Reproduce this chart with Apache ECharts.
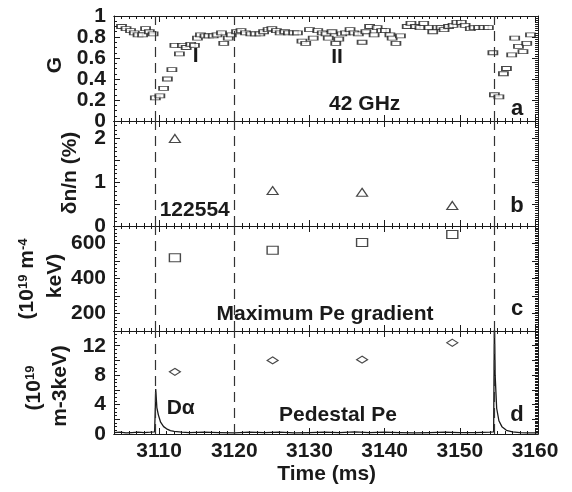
<!DOCTYPE html>
<html>
<head>
<meta charset="utf-8">
<script src="https://cdn.jsdelivr.net/npm/echarts@6/dist/echarts.min.js"></script>
<style>
html, body { margin: 0; padding: 0; background: #fff; }
#chartBox { width: 572px; height: 492px; }
</style>
</head>
<body>
<div id="chartBox"></div>
<script>
// panel a : G (42 GHz)
var gTime = [3105.0, 3105.6, 3106.2, 3106.7, 3107.2, 3107.8, 3108.2, 3108.7, 3109.2,
    3109.5, 3110.1, 3110.6, 3111.1, 3111.7, 3112.1, 3112.7, 3113.1, 3113.6, 3114.2, 3114.7,
    3115.1, 3115.5, 3116.1, 3116.6, 3117.2, 3117.7, 3118.3, 3118.6, 3119.2, 3119.6,
    3120.3, 3120.9, 3121.5, 3122.2, 3122.8, 3123.4, 3123.9, 3124.5, 3125.0, 3125.6,
    3126.1, 3126.7, 3127.2, 3127.9, 3128.4, 3129.0, 3129.5, 3130.0, 3130.5, 3131.1,
    3131.7, 3132.2, 3132.5, 3133.0, 3133.5, 3133.9, 3134.3, 3134.8, 3135.4, 3135.9,
    3136.5, 3137.0, 3137.5, 3138.0, 3138.6, 3139.0, 3139.6, 3140.1, 3140.7, 3141.0,
    3141.5, 3142.1, 3143.0, 3143.5, 3144.1, 3144.7, 3145.2, 3145.9, 3146.4, 3147.0,
    3147.5, 3147.9, 3148.5, 3149.1, 3149.6, 3150.2, 3150.7, 3151.4, 3151.9, 3152.5,
    3153.2, 3153.8, 3154.4, 3154.6, 3155.2, 3155.8, 3156.2, 3156.9, 3157.3, 3157.8,
    3158.4, 3158.9, 3159.4];
var gVal = [0.90, 0.88, 0.86, 0.84, 0.82, 0.82, 0.88, 0.85, 0.83,
    0.22, 0.24, 0.31, 0.40, 0.49, 0.72, 0.64, 0.72, 0.70, 0.73, 0.72,
    0.79, 0.82, 0.81, 0.81, 0.81, 0.82, 0.84, 0.74, 0.79, 0.82,
    0.85, 0.86, 0.84, 0.83, 0.83, 0.83, 0.85, 0.87, 0.88, 0.86,
    0.84, 0.85, 0.84, 0.84, 0.84, 0.76, 0.74, 0.87, 0.79, 0.86,
    0.84, 0.83, 0.79, 0.85, 0.74, 0.78, 0.83, 0.84, 0.87, 0.84,
    0.83, 0.75, 0.85, 0.90, 0.82, 0.89, 0.86, 0.86, 0.82, 0.79,
    0.74, 0.81, 0.90, 0.93, 0.90, 0.89, 0.93, 0.89, 0.85, 0.89,
    0.89, 0.87, 0.90, 0.91, 0.94, 0.94, 0.91, 0.88, 0.89, 0.89,
    0.89, 0.89, 0.65, 0.25, 0.23, 0.45, 0.50, 0.63, 0.79, 0.71,
    0.66, 0.74, 0.82];

// panels b, c, d : profile times
var profTime = [3112.1, 3125.1, 3137.0, 3149.0];
var dnVal = [2.0, 0.81, 0.77, 0.47];          // δn/n (%)
var gradVal = [518, 562, 606, 651];           // maximum Pe gradient
var pedVal = [8.45, 10.0, 10.1, 12.4];        // pedestal Pe

// D-alpha trace
var daTime = [3104.0, 3104.8, 3105.6, 3106.4, 3107.2, 3108.0, 3108.8, 3109.4, 3109.48, 3109.55,
    3109.7, 3109.9, 3110.2, 3110.6, 3111.0, 3111.5, 3112.0, 3113.0, 3114.0, 3116.0,
    3118.0, 3120.0, 3122.0, 3124.0, 3126.0, 3128.0, 3130.0, 3132.0, 3134.0, 3136.0,
    3138.0, 3140.0, 3142.0, 3144.0, 3146.0, 3148.0, 3150.0, 3152.0, 3154.0, 3154.5,
    3154.6, 3154.7, 3154.9, 3155.2, 3155.6, 3156.2, 3157.0, 3158.0, 3159.0, 3160.4];
var daVal = [0.20, 0.25, 0.15, 0.20, 0.25, 0.20, 0.25, 0.30, 3.0, 6.1,
    3.6, 2.6, 1.6, 1.0, 0.7, 0.45, 0.35, 0.25, 0.20, 0.25,
    0.20, 0.15, 0.25, 0.20, 0.25, 0.15, 0.20, 0.25, 0.20, 0.30,
    0.20, 0.25, 0.20, 0.15, 0.20, 0.25, 0.20, 0.20, 0.25, 0.30,
    16, 8.0, 3.5, 1.8, 1.0, 0.5, 0.3, 0.2, 0.15, 0.15];

// vertical dashed markers
var dashTimes = [3109.45, 3120, 3154.6];

// x tick labels
var xLabels = [3110, 3120, 3130, 3140, 3150, 3160];
var xMinor = [];
for (var t = 3105; t <= 3160; t++) { xMinor.push(t); }

var FONT = "'Liberation Sans', Arial, sans-serif";
var INK = '#1a1a1a';

var grids = [
    { left: 114, right: 34, top: 16, height: 105 },
    { left: 114, right: 34, top: 121, height: 105 },
    { left: 114, right: 34, top: 226, height: 105 },
    { left: 114, right: 34, top: 331, height: 103 }
];

var yCfg = [
    { min: 0, max: 1, interval: 0.2, minor: 4, show: function (v) { return true; } },
    { min: 0, max: 2.4, interval: 0.5, minor: 5, show: function (v) { return Math.abs(v - Math.round(v)) < 1e-6; } },
    { min: 100, max: 700, interval: 100, minor: 5, show: function (v) { return v == 200 || v == 400 || v == 600; } },
    { min: 0, max: 14, interval: 2, minor: 4, show: function (v) { return v % 4 == 0 && v < 14; } }
];

var xAxes = [];
var yAxes = [];

function addXAxis(i, pos, vals, len, withLabel) {
    xAxes.push({
        type: 'value',
        gridIndex: i,
        position: pos,
        min: 3104,
        max: 3160.4,
        axisLine: { show: true, onZero: false, lineStyle: { color: INK, width: 1 } },
        axisTick: { show: true, inside: true, length: len, customValues: vals, lineStyle: { color: INK } },
        axisLabel: {
            show: withLabel,
            customValues: xLabels,
            margin: 7,
            color: INK,
            fontFamily: FONT,
            fontWeight: 'bold',
            fontSize: 21,
            formatter: function (v) { return String(v); }
        },
        splitLine: { show: false }
    });
}

function addYAxis(i, pos) {
    var c = yCfg[i];
    yAxes.push({
        type: 'value',
        gridIndex: i,
        position: pos,
        min: c.min,
        max: c.max,
        interval: c.interval,
        axisLine: { show: true, lineStyle: { color: INK, width: 1 } },
        axisTick: { show: true, inside: true, length: 6, lineStyle: { color: INK } },
        minorTick: { show: true, splitNumber: pos == 'left' ? c.minor : 10, length: 3, lineStyle: { color: INK } },
        axisLabel: {
            show: pos == 'left',
            margin: 8,
            color: INK,
            fontFamily: FONT,
            fontWeight: 'bold',
            fontSize: 21,
            formatter: function (v) { return c.show(v) ? String(+v.toFixed(2)) : ''; }
        },
        splitLine: { show: false },
        minorSplitLine: { show: false }
    });
}

for (var i = 0; i < 4; i++) {
    addXAxis(i, 'bottom', xLabels, 6, i == 3);   // 4*i
    addXAxis(i, 'bottom', xMinor, 3, false);     // 4*i+1
    addXAxis(i, 'top', xLabels, 6, false);       // 4*i+2
    addXAxis(i, 'top', xMinor, 3, false);        // 4*i+3
    addYAxis(i, 'left');                         // 2*i
    addYAxis(i, 'right');                        // 2*i+1
}

function pairs(xs, ys) {
    var out = [];
    for (var k = 0; k < xs.length; k++) { out.push([xs[k], ys[k]]); }
    return out;
}

function dashLines() {
    var d = [];
    for (var k = 0; k < dashTimes.length; k++) { d.push({ xAxis: dashTimes[k] }); }
    return {
        silent: true,
        symbol: 'none',
        label: { show: false },
        lineStyle: { color: '#333', width: 1.2, type: [10, 6] },
        data: d
    };
}

function markerSeries(i, data, symbol, size) {
    return {
        type: 'scatter',
        xAxisIndex: 4 * i,
        yAxisIndex: 2 * i,
        symbol: symbol,
        symbolSize: size,
        itemStyle: { color: '#fff', borderColor: INK, borderWidth: 1.2 },
        data: data,
        markLine: dashLines(),
        z: 3
    };
}

var seriesList = [
    markerSeries(0, pairs(gTime, gVal), 'rect', [9, 4]),
    markerSeries(1, pairs(profTime, dnVal), 'triangle', [11, 8]),
    markerSeries(2, pairs(profTime, gradVal), 'rect', [11, 8]),
    markerSeries(3, pairs(profTime, pedVal), 'diamond', [11, 7]),
    {
        type: 'line',
        xAxisIndex: 12,
        yAxisIndex: 6,
        showSymbol: false,
        clip: true,
        lineStyle: { color: INK, width: 1.3 },
        data: pairs(daTime, daVal),
        z: 2
    }
];

// text placed by its baseline (y given as baseline, drawn bottom-aligned)
function txt(x, y, s, opt) {
    opt = opt || {};
    var size = opt.size || 21;
    var va = opt.va || 'bottom';
    var yy = va == 'bottom' ? y + Math.round(size * 0.21) : y;
    return {
        type: 'text',
        x: x,
        y: yy,
        rotation: opt.rot || 0,
        silent: true,
        style: {
            text: s,
            fill: INK,
            fontFamily: FONT,
            fontWeight: 'bold',
            fontSize: size,
            align: opt.align || 'center',
            verticalAlign: va,
            rich: opt.rich
        }
    };
}

var supRich = {
    sup: { fontFamily: FONT, fontWeight: 'bold', fontSize: 13, verticalAlign: 'top', fill: INK }
};
var R = Math.PI / 2;

var graphics = [
    // y axis titles
    txt(55, 65, 'G', { rot: R, va: 'middle' }),
    txt(70, 173, 'δn/n (%)', { rot: R, va: 'middle' }),
    txt(27, 279, '(10{sup|19} m{sup|-4}', { rot: R, va: 'middle', rich: supRich }),
    txt(55, 276, 'keV)', { rot: R, va: 'middle' }),
    txt(34, 388, '(10{sup|19}', { rot: R, va: 'middle', rich: supRich }),
    txt(60, 386, 'm-3keV)', { rot: R, va: 'middle' }),
    // annotations
    txt(195.7, 63, 'I'),
    txt(337, 64, 'II'),
    txt(364.7, 111, '42 GHz'),
    txt(517, 115, 'a', { size: 22 }),
    txt(194.7, 217, '122554'),
    txt(517, 212, 'b', { size: 22 }),
    txt(325, 321, 'Maximum Pe gradient'),
    txt(517, 315, 'c', { size: 22 }),
    txt(166.7, 415, 'Dα', { align: 'left' }),
    txt(338, 422, 'Pedestal Pe'),
    txt(517, 421, 'd', { size: 22 }),
    // x axis title
    txt(326.7, 481, 'Time (ms)')
];

var myChart = echarts.init(document.getElementById('chartBox'), null, { renderer: 'canvas' });
myChart.setOption({
    animation: false,
    backgroundColor: '#fff',
    grid: grids,
    xAxis: xAxes,
    yAxis: yAxes,
    series: seriesList,
    graphic: graphics
});
</script>
</body>
</html>
